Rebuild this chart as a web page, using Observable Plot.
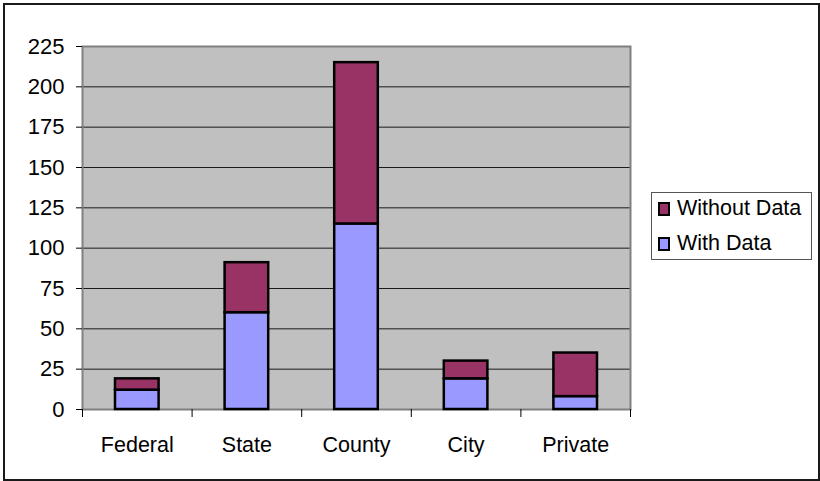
<!DOCTYPE html>
<html>
<head>
<meta charset="utf-8">
<script src="https://cdn.jsdelivr.net/npm/d3@7"></script>
<script src="https://cdn.jsdelivr.net/npm/@observablehq/plot@0.6"></script>
<style>
  html, body { margin: 0; padding: 0; background: #fff; }
  #wrap { position: relative; width: 820px; height: 481px; overflow: hidden; font-family: "Liberation Sans", Arial, sans-serif; }
  #frame { position: absolute; left: 3px; top: 3px; width: 813px; height: 474px; border: 2px solid #1a1a1a; pointer-events: none; }
  #legend { position: absolute; left: 651px; top: 192px; width: 159px; height: 66px; border: 1px solid #555; background: #fff; font-size: 21.5px; color: #000; }
  .row { position: absolute; left: 6px; display: flex; align-items: center; }
  .sw { width: 8px; height: 10px; border: 2px solid #000; margin-right: 7px; }
</style>
</head>
<body>
<div id="wrap">
  <div id="chart"></div>
  <div id="legend"></div>
  <div id="frame"></div>
</div>
<script>
const categories = ["Federal", "State", "County", "City", "Private"];
const withData = [12, 60, 115, 19, 8];
const withoutData = [7, 31, 100, 11, 27];
const seriesNames = ["With Data", "Without Data"];
const seriesColors = ["#9999FF", "#993366"];
const yTicks = [0, 25, 50, 75, 100, 125, 150, 175, 200, 225];

const table = [];
categories.forEach((c, i) => {
  table.push({i, cat: c, series: seriesNames[0], value: withData[i]});
  table.push({i, cat: c, series: seriesNames[1], value: withoutData[i]});
});

const chart = Plot.plot({
  width: 820,
  height: 481,
  marginLeft: 82,
  marginRight: 190,
  marginTop: 46,
  marginBottom: 72,
  style: {fontFamily: "'Liberation Sans', Arial, sans-serif", fontSize: "21.5px", color: "#000", background: "transparent"},
  x: {domain: [0, categories.length], axis: null},
  y: {domain: [0, 225], axis: null},
  color: {domain: seriesNames, range: seriesColors},
  marks: [
    Plot.frame({fill: "#C0C0C0", stroke: "none"}),
    Plot.ruleY(yTicks, {stroke: "#1a1a1a", strokeWidth: 1}),
    Plot.frame({stroke: "#808080", strokeWidth: 2}),
    Plot.rectY(table, {x1: "i", x2: d => d.i + 1, y: "value", fill: "series", stroke: "#000", strokeWidth: 2.5, insetLeft: 33, insetRight: 33}),
    Plot.axisY({ticks: yTicks, tickSize: 6, tickPadding: 12, fontSize: 22, stroke: "#000", label: null}),
    Plot.axisX({ticks: d3.range(categories.length + 1), tickSize: 8, tickFormat: () => "", stroke: "#000", label: null}),
    Plot.axisX({ticks: categories.map((_, i) => i + 0.5), tickSize: 0, tickPadding: 27, fontSize: 21.5, tickFormat: v => categories[Math.floor(v)], label: null})
  ]
});
document.getElementById("chart").appendChild(chart);

const legend = document.getElementById("legend");
const legendOrder = [1, 0];
legendOrder.forEach((k, j) => {
  const row = document.createElement("div");
  row.className = "row";
  row.style.top = (3 + j * 35) + "px";
  const sw = document.createElement("span");
  sw.className = "sw";
  sw.style.background = seriesColors[k];
  const t = document.createElement("span");
  t.textContent = seriesNames[k];
  row.appendChild(sw);
  row.appendChild(t);
  legend.appendChild(row);
});
</script>
</body>
</html>
